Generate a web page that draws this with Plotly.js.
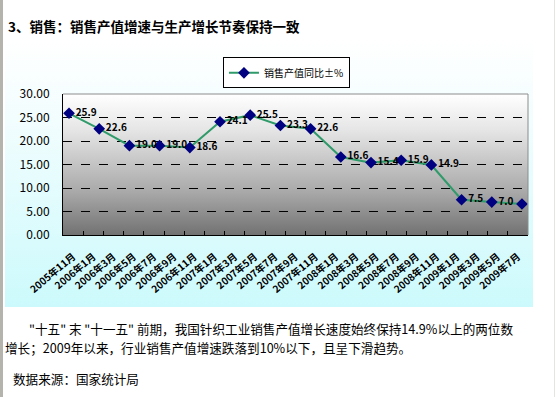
<!DOCTYPE html>
<html>
<head>
<meta charset="utf-8">
<script src="https://cdn.plot.ly/plotly-3.0.1.min.js"></script>
<style>
  html, body { margin:0; padding:0; width:558px; height:397px; background:#ffffff; overflow:hidden; }
  body { position:relative; font-family:"Noto Sans CJK SC", sans-serif; }
  #lborder { position:absolute; left:0; top:0; width:3px; height:397px; background:#b4b4ac; }
  #rborder { position:absolute; left:554px; top:0; width:1px; height:397px; background:#e4e4e0; }
  #chartbg { position:absolute; left:5px; top:40px; width:528px; height:267px;
             background:linear-gradient(to bottom, #ffffff 0%, #f2fdfe 30%, #ccfafc 100%); }
  #plotbg { position:absolute; left:63px; top:94px; width:465px; height:141px;
            background:linear-gradient(to bottom, #ffffff 0%, #e6e6e6 25%, #a8a8a8 70%, #727272 100%); }
  #chart { position:absolute; left:0; top:0; width:558px; height:397px; }
  .txt { position:absolute; color:#000; white-space:nowrap; }
  #title { left:8px; top:16px; font-size:13.5px; font-weight:bold; }
  #p1 { left:29px; top:319px; font-size:12.6px; }
  #p2 { left:5px; top:338px; font-size:12.6px; }
  #src { left:13px; top:369px; font-size:12.6px; }
</style>
</head>
<body>
<div id="lborder"></div>
<div id="rborder"></div>
<div id="chartbg"></div>
<div id="plotbg"></div>
<div id="chart"></div>
<div class="txt" id="title">3、销售：销售产值增速与生产增长节奏保持一致</div>
<div class="txt" id="p1">"十五" 末 "十一五" 前期，我国针织工业销售产值增长速度始终保持14.9%以上的两位数</div>
<div class="txt" id="p2">增长；2009年以来，行业销售产值增速跌落到10%以下，且呈下滑趋势。</div>
<div class="txt" id="src">数据来源：国家统计局</div>
<script>
// Category (tick) labels of the x axis
const monthLabels = [
  '2005年11月','2006年1月','2006年3月','2006年5月','2006年7月','2006年9月','2006年11月',
  '2007年1月','2007年3月','2007年5月','2007年7月','2007年9月','2007年11月',
  '2008年1月','2008年3月','2008年5月','2008年7月','2008年9月','2008年11月',
  '2009年1月','2009年3月','2009年5月','2009年7月'
];
// Series: 销售产值同比±%
const seriesName = '销售产值同比±%';
const salesGrowth = [25.9, 22.6, 19.0, 19.0, 18.6, 24.1, 25.5, 23.3, 22.6, 16.6, 15.4, 15.9, 14.9, 7.5, 7.0, 6.6];
// Point identifiers for the series' own (hidden) category axis
const pointIds = salesGrowth.map((_, i) => '点' + (i + 1));

const axisFont = { family: 'Noto Sans CJK SC, sans-serif', size: 12, color: '#000' };

const traces = [
  { // helper to register the 23 month categories on the visible x axis
    type: 'scatter', mode: 'markers', x: monthLabels, y: monthLabels.map(() => null),
    xaxis: 'x', yaxis: 'y', showlegend: false, hoverinfo: 'skip', marker: { opacity: 0 }
  },
  {
    type: 'scatter', mode: 'lines+markers+text', name: seriesName,
    x: pointIds, y: salesGrowth, xaxis: 'x2', yaxis: 'y',
    text: salesGrowth.map(v => v.toFixed(1)), textposition: 'middle right',
    textfont: { family: 'Noto Sans CJK SC, sans-serif', size: 10, weight: 'bold', color: '#000' },
    line: { color: '#2f9a6a', width: 2 },
    marker: { symbol: 'diamond', size: 9, color: '#000080', line: { width: 0 } },
    cliponaxis: true
  }
];

const layout = {
  width: 558, height: 397,
  margin: { l: 63, r: 30, t: 94, b: 162 },
  paper_bgcolor: 'rgba(0,0,0,0)', plot_bgcolor: 'rgba(0,0,0,0)',
  showlegend: true,
  legend: {
    x: 0.344, y: 1.26, xanchor: 'left', yanchor: 'top',
    bgcolor: '#ffffff', bordercolor: '#000', borderwidth: 1,
    font: { family: 'Noto Sans CJK SC, sans-serif', size: 10, color: '#000' },
    itemwidth: 30, tracegroupgap: 0
  },
  xaxis: {
    type: 'category', categoryorder: 'array', categoryarray: monthLabels,
    range: [-0.5, monthLabels.length - 0.5], fixedrange: true,
    showline: true, linecolor: '#000', linewidth: 1,
    showgrid: false, zeroline: false,
    ticks: 'inside', tickson: 'boundaries', ticklen: 4, tickcolor: '#000',
    tickangle: -40, ticklabelstandoff: 11,
    tickfont: { family: 'Noto Sans CJK SC, sans-serif', size: 10, weight: 'bold', color: '#000' }
  },
  xaxis2: {
    type: 'category', overlaying: 'x', visible: false,
    categoryorder: 'array', categoryarray: pointIds,
    range: [-0.2, pointIds.length - 0.8], fixedrange: true
  },
  yaxis: {
    range: [0, 30], dtick: 5, tickformat: '.2f', fixedrange: true,
    showline: true, linecolor: '#000', linewidth: 1,
    showgrid: true, gridcolor: '#000', gridwidth: 1, griddash: 'dash',
    zeroline: false, ticks: '', ticklabelstandoff: 10,
    tickfont: axisFont
  },
  shapes: [
    { type: 'line', xref: 'paper', yref: 'paper', x0: 0, x1: 1, y0: 1, y1: 1,
      line: { color: '#8c8c8c', width: 1 }, layer: 'above' },
    { type: 'line', xref: 'paper', yref: 'paper', x0: 1, x1: 1, y0: 0, y1: 1,
      line: { color: '#8c8c8c', width: 1 }, layer: 'above' }
  ]
};

Plotly.newPlot('chart', traces, layout, { displayModeBar: false, staticPlot: true });
</script>
</body>
</html>
